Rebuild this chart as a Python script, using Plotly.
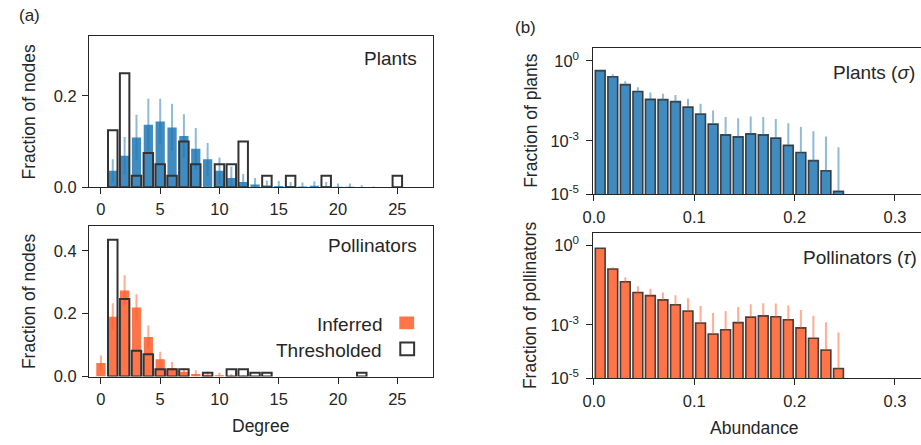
import plotly.graph_objects as go

W, H = 921, 445

# ---------------- Panel (a): degree distributions ----------------
plants_inf_deg = [1, 2, 3, 4, 5, 6, 7, 8, 9, 10, 11, 12, 13, 14, 15, 16, 17, 18, 19, 20, 21, 22, 23]
plants_inf_val = [0.036, 0.069, 0.109, 0.137, 0.144, 0.131, 0.112, 0.084, 0.061, 0.036, 0.020, 0.0115,
                  0.0057, 0.0036, 0.0025, 0.002, 0.0014, 0.003, 0.0015, 0.001, 0.0008, 0.0003, 0.0002]
plants_inf_hi = [0.061, 0.110, 0.159, 0.194, 0.194, 0.183, 0.160, 0.130, 0.097, 0.065, 0.045, 0.029,
                 0.020, 0.0143, 0.0136, 0.011, 0.010, 0.013, 0.011, 0.008, 0.008, 0.004, 0.0015]

plants_thr_deg = [1, 2, 3, 4, 5, 6, 7, 8, 10, 11, 12, 14, 16, 19, 25]
plants_thr_val = [0.125, 0.25, 0.025, 0.075, 0.05, 0.025, 0.1, 0.05, 0.05, 0.05, 0.1, 0.025, 0.025, 0.025, 0.025]

poll_inf_deg = [0, 1, 2, 3, 4, 5, 6, 7, 8, 9, 10, 11, 12]
poll_inf_val = [0.043, 0.19, 0.274, 0.22, 0.126, 0.055, 0.027, 0.015, 0.008, 0.006, 0.004, 0.002, 0.001]
poll_inf_hi = [0.067, 0.233, 0.322, 0.262, 0.1625, 0.079, 0.046, 0.027, 0.020, 0.017, 0.012, 0.008, 0.004]

poll_thr_deg = [1, 2, 3, 4, 5, 6, 7, 9, 11, 12, 13, 14, 22]
poll_thr_val = [0.435, 0.247, 0.082, 0.0706, 0.0235, 0.0235, 0.0235, 0.0118, 0.0235, 0.0235, 0.0118, 0.0118, 0.0118]

degree_ticks = [0, 5, 10, 15, 20, 25]

# ---------------- Panel (b): abundance distributions ----------------
abund_bins = [0.00625, 0.01875, 0.03125, 0.04375, 0.05625, 0.06875, 0.08125, 0.09375, 0.10625, 0.11875,
              0.13125, 0.14375, 0.15625, 0.16875, 0.18125, 0.19375, 0.20625, 0.21875, 0.23125, 0.24375]
sigma_val = [0.430, 0.252, 0.128, 0.0710, 0.0361, 0.0351, 0.0296, 0.0184, 0.0102, 0.00425,
             0.00168, 0.00142, 0.00183, 0.00168, 0.00127, 0.000682, 0.000367, 0.000182, 0.0000760, 0.0000129]
sigma_hi = [0.447, 0.316, 0.170, 0.102, 0.0646, 0.0582, 0.0525, 0.0382, 0.0244, 0.0139,
            0.00791, 0.00705, 0.00813, 0.00794, 0.00667, 0.00462, 0.00331, 0.00229, 0.00146, 0.000575]
tau_val = [0.755, 0.125, 0.0419, 0.0166, 0.0126, 0.00871, 0.00570, 0.00334, 0.00118, 0.000456,
           0.000656, 0.00122, 0.00196, 0.00219, 0.00202, 0.00157, 0.000776, 0.000316, 0.000115, 0.0000232]
tau_hi = [0.77, 0.145, 0.0621, 0.0282, 0.0226, 0.0166, 0.0129, 0.0100, 0.00509, 0.00282,
          0.00334, 0.00468, 0.00603, 0.00656, 0.00638, 0.00540, 0.00364, 0.00219, 0.00125, 0.000525]

abund_ticks = [0.0, 0.1, 0.2, 0.3]
log_ticks = [1, 1e-3, 1e-5]
log_ticktext = ["10<sup>0</sup>", "10<sup>-3</sup>", "10<sup>-5</sup>"]

BLUE = "rgba(31,119,180,0.85)"
BLUE_ERR = "rgba(31,119,180,0.5)"
ORANGE = "rgba(255,92,40,0.85)"
ORANGE_ERR = "rgba(255,92,40,0.5)"
EDGE = "#333333"
TXT = "#262626"
FONT = "Liberation Sans, Arial, sans-serif"


def px_x(p):
    return p / W


def px_y(p):
    return 1 - p / H


def sym_err(vals, his):
    plus = [h - v for v, h in zip(vals, his)]
    minus = [min(v, h - v) for v, h in zip(vals, his)]
    return plus, minus


fig = go.Figure()

# (a) top: plants
pp, pm = sym_err(plants_inf_val, plants_inf_hi)
fig.add_trace(go.Bar(x=plants_inf_deg, y=plants_inf_val, width=0.78, marker=dict(color=BLUE, line=dict(width=0)),
                     error_y=dict(type="data", symmetric=False, array=pp, arrayminus=pm, color=BLUE_ERR,
                                  thickness=2, width=0),
                     xaxis="x", yaxis="y", showlegend=False))
fig.add_trace(go.Bar(x=plants_thr_deg, y=plants_thr_val, width=0.8,
                     marker=dict(color="rgba(0,0,0,0)", line=dict(color=EDGE, width=2)),
                     xaxis="x", yaxis="y", showlegend=False))

# (a) bottom: pollinators
qp, qm = sym_err(poll_inf_val, poll_inf_hi)
fig.add_trace(go.Bar(x=poll_inf_deg, y=poll_inf_val, width=0.78, marker=dict(color=ORANGE, line=dict(width=0)),
                     error_y=dict(type="data", symmetric=False, array=qp, arrayminus=qm, color=ORANGE_ERR,
                                  thickness=2, width=0),
                     xaxis="x2", yaxis="y2", showlegend=False))
fig.add_trace(go.Bar(x=poll_thr_deg, y=poll_thr_val, width=0.8,
                     marker=dict(color="rgba(0,0,0,0)", line=dict(color=EDGE, width=2)),
                     xaxis="x2", yaxis="y2", showlegend=False))

# (b) top: sigma
fig.add_trace(go.Bar(x=abund_bins, y=sigma_val, width=0.0098,
                     marker=dict(color=BLUE, line=dict(color="rgba(40,40,40,0.85)", width=1.6)),
                     error_y=dict(type="data", symmetric=False, array=[h - v for v, h in zip(sigma_val, sigma_hi)],
                                  arrayminus=[0] * len(sigma_val), color=BLUE_ERR, thickness=2, width=0),
                     xaxis="x3", yaxis="y3", showlegend=False))
# (b) bottom: tau
fig.add_trace(go.Bar(x=abund_bins, y=tau_val, width=0.0098,
                     marker=dict(color=ORANGE, line=dict(color="rgba(40,40,40,0.85)", width=1.6)),
                     error_y=dict(type="data", symmetric=False, array=[h - v for v, h in zip(tau_val, tau_hi)],
                                  arrayminus=[0] * len(tau_val), color=ORANGE_ERR, thickness=2, width=0),
                     xaxis="x4", yaxis="y4", showlegend=False))

axis_common = dict(showline=True, linecolor=TXT, linewidth=1.25, ticks="outside", ticklen=6, tickwidth=1.25,
                   tickcolor=TXT, showgrid=False, zeroline=False, tickfont=dict(size=16.5, color=TXT, family=FONT))

xa_dom = [px_x(79), px_x(427)]
xb_dom = [px_x(589.5), 1.0]

fig.update_layout(
    width=W, height=H, margin=dict(l=0, r=0, t=0, b=0), paper_bgcolor="white", plot_bgcolor="white",
    barmode="overlay", font=dict(family=FONT, color=TXT),
    xaxis=dict(axis_common, domain=xa_dom, range=[-1, 28], tickvals=degree_ticks, mirror=True, anchor="y",
               ticklabelstandoff=1),
    yaxis=dict(axis_common, domain=[px_y(191), px_y(37)], range=[0, 0.331], tickvals=[0, 0.2],
               tickformat=".1f", mirror=True, anchor="x", ticklabelstandoff=2),
    xaxis2=dict(axis_common, domain=xa_dom, range=[-1, 28], tickvals=degree_ticks, mirror=True, anchor="y2",
                ticklabelstandoff=2),
    yaxis2=dict(axis_common, domain=[px_y(384.3), px_y(230.7)], range=[0, 0.479], tickvals=[0, 0.2, 0.4],
                tickformat=".1f", mirror=True, anchor="x2", ticklabelstandoff=2),
    xaxis3=dict(axis_common, domain=xb_dom, range=[-0.0005, 0.326], tickvals=abund_ticks, tickformat=".1f",
                mirror=True, anchor="y3", ticklabelstandoff=2),
    yaxis3=dict(axis_common, domain=[px_y(198.3), px_y(49)], type="log", range=[-5, 0.48], tickvals=log_ticks,
                ticktext=log_ticktext, mirror=False, anchor="x3", ticklabelstandoff=4),
    xaxis4=dict(axis_common, domain=xb_dom, range=[-0.0005, 0.326], tickvals=abund_ticks, tickformat=".1f",
                mirror=True, anchor="y4", ticklabelstandoff=2),
    yaxis4=dict(axis_common, domain=[px_y(386), px_y(237.3)], type="log", range=[-5, 0.47], tickvals=log_ticks,
                ticktext=log_ticktext, mirror=False, anchor="x4", ticklabelstandoff=4),
)


def ann(text, x, y, size, xanchor="center", angle=0):
    fig.add_annotation(text=text, x=px_x(x), y=px_y(y), xref="paper", yref="paper", showarrow=False,
                       xanchor=xanchor, yanchor="middle", textangle=angle,
                       font=dict(size=size, color=TXT, family=FONT))


ann("Plants", 413, 60, 19, "right")
ann("Pollinators", 413, 251, 19, "right")
ann("Plants (<i>σ</i>)", 917, 74, 19, "right")
ann("Pollinators (<i>τ</i>)", 919, 263, 19, "right")
ann("Inferred", 378, 331, 19, "right")
ann("Thresholded", 378, 358, 19, "right")
ann("(a)", 19, 16, 17)
ann("(b)", 521, 28, 17)
ann("Fraction of nodes", 18, 114, 17.5, angle=-90)
ann("Fraction of nodes", 18, 307.5, 17.5, angle=-90)
ann("Fraction of plants", 526, 123.6, 17.5, angle=-90)
ann("Fraction of pollinators", 526, 311.7, 17.5, angle=-90)
ann("Degree", 253, 435, 17.5)
ann("Abundance", 752, 437, 17.5)

# legend swatches
fig.add_shape(type="rect", xref="paper", yref="paper", x0=px_x(393), x1=px_x(408), y0=px_y(336), y1=px_y(323),
              fillcolor=ORANGE, line=dict(width=0))
fig.add_shape(type="rect", xref="paper", yref="paper", x0=px_x(394), x1=px_x(408), y0=px_y(362.5), y1=px_y(349.5),
              fillcolor="rgba(0,0,0,0)", line=dict(color=EDGE, width=2))

fig.write_html("out.html")
